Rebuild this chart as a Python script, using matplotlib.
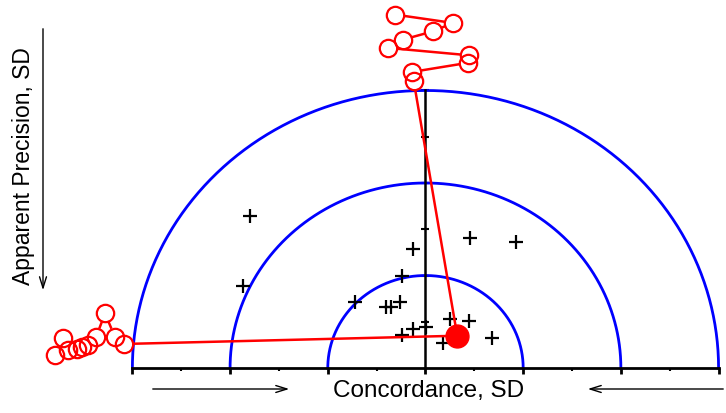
import numpy as np
import matplotlib
matplotlib.use("Agg")
import matplotlib.pyplot as plt

plt.rcParams['font.family'] = ['Liberation Sans', 'DejaVu Sans']

# SD rings
radii = [1, 2, 3]

# individual results (concordance SD, apparent precision SD)
pts_x = [-1.80, -1.87, -0.72, -0.40, -0.35, -0.26, -0.24, -0.125, 0.455, 0.926,
         0.246, 0.448, -0.128, 0.010, -0.244, 0.182, 0.684]
pts_y = [1.64, 0.89, 0.71, 0.66, 0.66, 0.71, 1.00, 1.29, 1.41, 1.36,
         0.53, 0.51, 0.42, 0.44, 0.36, 0.27, 0.32]

# current result
cur_x = 0.325
cur_y = 0.349

# history runs (off-scale), oldest first
top_x = [-0.31, 0.28, 0.08, -0.23, -0.38, 0.45, 0.44, -0.14, -0.12]
top_y = [3.82, 3.73, 3.64, 3.55, 3.46, 3.38, 3.30, 3.20, 3.10]
left_x = [-3.71, -3.79, -3.66, -3.57, -3.52, -3.45, -3.37, -3.28, -3.18, -3.09]
left_y = [0.32, 0.14, 0.195, 0.21, 0.23, 0.25, 0.34, 0.59, 0.34, 0.26]

fig = plt.figure(figsize=(7.26, 4.13), dpi=100)
ax = fig.add_axes([0, 0, 1, 1])
ax.set_xlim(-4.355, 3.076)
ax.set_ylim(-0.486, 3.978)

# blue half circles
theta = np.linspace(0, np.pi, 400)
for r in radii:
    ax.plot(r * np.cos(theta), r * np.sin(theta), color='#0000ff', lw=2.0, zorder=2)

# axes through the origin
for s in ['top', 'right']:
    ax.spines[s].set_visible(False)
ax.spines['bottom'].set_position(('data', 0))
ax.spines['bottom'].set_bounds(-3, 3)
ax.spines['bottom'].set_linewidth(2.0)
ax.spines['left'].set_position(('data', 0))
ax.spines['left'].set_bounds(0, 3)
ax.spines['left'].set_linewidth(1.8)
ax.set_xticks(np.arange(-3, 4, 1))
ax.set_xticks(np.arange(-2.5, 3, 1), minor=True)
ax.set_yticks([1, 2, 3])
ax.set_yticks([0.5, 1.5, 2.5], minor=True)
ax.tick_params(axis='x', which='major', direction='out', length=4, width=2, labelbottom=False)
ax.tick_params(axis='x', which='minor', direction='out', length=2, width=1.5)
ax.tick_params(axis='y', which='both', direction='inout', length=6, width=1.5, labelleft=False)

# results
ax.plot(pts_x, pts_y, '+', color='black', ms=10, mew=1.6, zorder=4)

# history paths: segments run from circle edge to circle edge
ring_ms = 12.5
ring_r = ring_ms / 72 * fig.dpi / 2 + 1
to_data = ax.transData.inverted()
for hx, hy in [(top_x, top_y), (left_x, left_y)]:
    px = ax.transData.transform(np.column_stack([hx + [cur_x], hy + [cur_y]]))
    for i in range(len(px) - 1):
        a, b = px[i], px[i + 1]
        d = b - a
        n = np.hypot(*d)
        cut_b = ring_r if i + 1 < len(hx) else 0
        if n <= ring_r + cut_b:
            continue
        u = d / n
        seg = to_data.transform([a + u * ring_r, b - u * cut_b])
        ax.plot(seg[:, 0], seg[:, 1], color='red', lw=1.8, zorder=5)
    ax.plot(hx, hy, 'o', ms=ring_ms, mfc='none', mec='red', mew=1.6, zorder=6)
ax.plot(cur_x, cur_y, 'o', ms=16.5, color='red', zorder=7)

# axis titles and direction arrows
fig.text(429 / 726, 22 / 413, 'Concordance, SD', ha='center', va='center', fontsize=17.5)
fig.text(24 / 726, 247 / 413, 'Apparent Precision, SD', ha='center', va='center',
         rotation=90, fontsize=16.5)
arrow = dict(arrowstyle='->, head_length=0.8, head_width=0.25', color='black', lw=1.0)
ax.annotate('', xy=(292, 24), xytext=(150, 24), xycoords='figure pixels',
            textcoords='figure pixels', arrowprops=arrow)
ax.annotate('', xy=(585, 24), xytext=(726, 24), xycoords='figure pixels',
            textcoords='figure pixels', arrowprops=arrow)
ax.annotate('', xy=(43, 120), xytext=(43, 387), xycoords='figure pixels',
            textcoords='figure pixels', arrowprops=arrow)

fig.savefig('out.png', dpi=100)
